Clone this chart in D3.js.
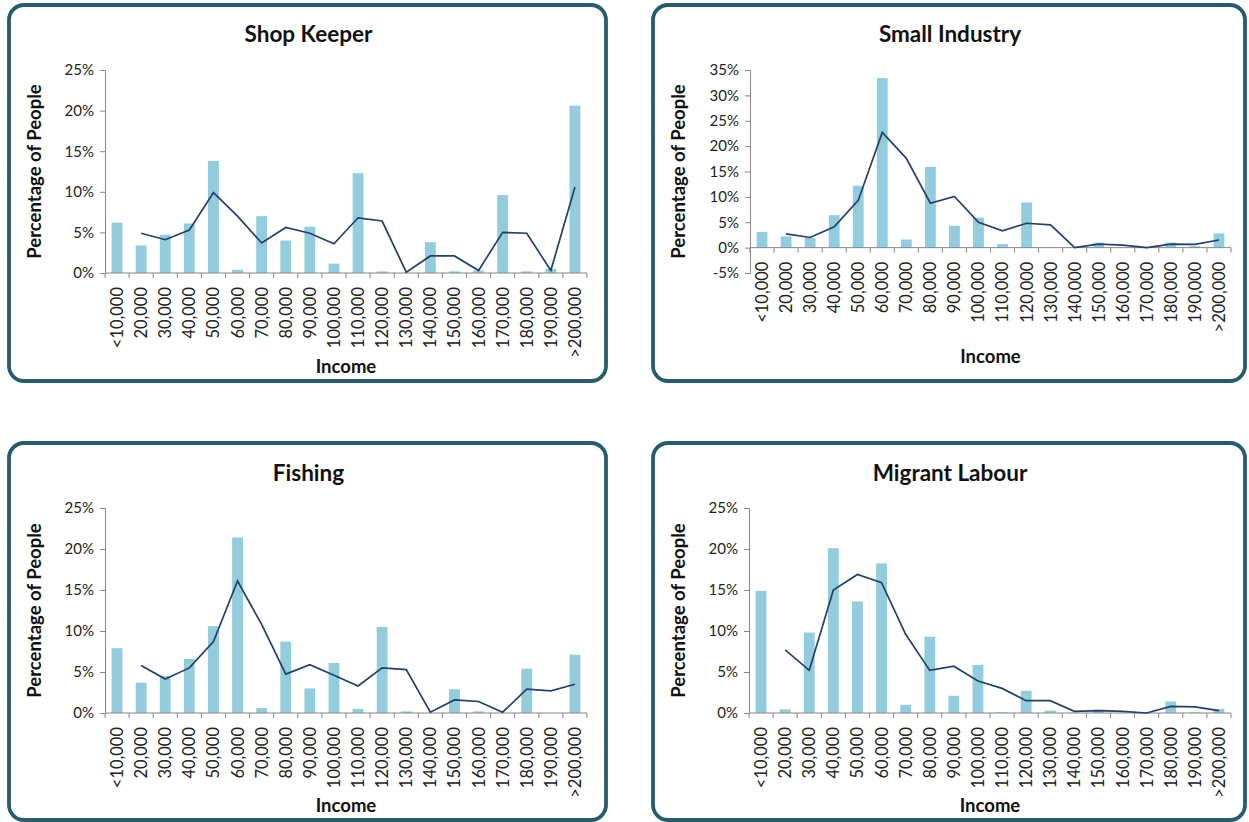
<!DOCTYPE html>
<html>
<head>
<meta charset="utf-8">
<script src="https://cdn.jsdelivr.net/npm/d3@7"></script>
<style>
  body { margin: 0; background: #fff; }
  svg { display: block; font-family: Lato, "Open Sans", sans-serif; }
</style>
</head>
<body>
<div id="chart"></div>
<script>
// income bands (x categories)
const incomeLabels = ["<10,000", "20,000", "30,000", "40,000", "50,000", "60,000", "70,000",
  "80,000", "90,000", "100,000", "110,000", "120,000", "130,000", "140,000", "150,000",
  "160,000", "170,000", "180,000", "190,000", ">200,000"];

const panelTitles = ["Shop Keeper", "Small Industry", "Fishing", "Migrant Labour"];

// bar values, % of people
const shopKeeperBars = [6.2, 3.4, 4.7, 6.1, 13.8, 0.4, 7.0, 4.0, 5.7, 1.15, 12.3, 0.2, 0.0, 3.8, 0.2, 0.3, 9.6, 0.2, 0.5, 20.6];
const smallIndustryBars = [3.1, 2.2, 1.9, 6.4, 12.2, 33.4, 1.6, 15.9, 4.3, 5.9, 0.7, 8.9, 0.0, 0.0, 1.0, 0.0, 0.0, 1.0, 0.3, 2.8];
const fishingBars = [7.9, 3.7, 4.5, 6.6, 10.6, 21.4, 0.6, 8.7, 3.0, 6.1, 0.5, 10.5, 0.2, 0.0, 2.9, 0.2, 0.0, 5.4, 0.0, 7.1];
const migrantBars = [14.9, 0.45, 9.8, 20.1, 13.6, 18.25, 1.0, 9.3, 2.1, 5.85, 0.1, 2.7, 0.3, 0.05, 0.4, 0.0, 0.0, 1.4, 0.1, 0.5];

// trend line values (no value for first band)
const shopKeeperLine = [null, 4.9, 4.1, 5.3, 9.9, 7.0, 3.7, 5.6, 4.9, 3.6, 6.8, 6.4, 0.1, 2.1, 2.1, 0.3, 5.0, 4.9, 0.3, 10.6];
const smallIndustryLine = [null, 2.7, 2.0, 4.1, 9.3, 22.7, 17.6, 8.75, 10.1, 5.0, 3.3, 4.8, 4.5, 0.0, 0.7, 0.5, 0.0, 0.7, 0.65, 1.5];
const fishingLine = [null, 5.8, 4.15, 5.5, 8.7, 16.1, 10.8, 4.75, 5.9, 4.6, 3.3, 5.5, 5.3, 0.1, 1.6, 1.4, 0.1, 2.9, 2.7, 3.5];
const migrantLine = [null, 7.7, 5.2, 15.0, 16.9, 15.9, 9.6, 5.2, 5.7, 3.9, 3.0, 1.5, 1.5, 0.2, 0.3, 0.2, 0.0, 0.8, 0.75, 0.3];

// y axis ticks per panel
const shopKeeperTicks = [0, 5, 10, 15, 20, 25];
const smallIndustryTicks = [-5, 0, 5, 10, 15, 20, 25, 30, 35];
const fishingTicks = [0, 5, 10, 15, 20, 25];
const migrantTicks = [0, 5, 10, 15, 20, 25];

const panels = [
  { title: panelTitles[0], bars: shopKeeperBars, line: shopKeeperLine, ticks: shopKeeperTicks,
    box: [9, 5, 606, 381], x0: 105, x1: 587, yTop: 70, yBot: 273, titleY: 34, ylabX: 35, incomeY: 367 },
  { title: panelTitles[1], bars: smallIndustryBars, line: smallIndustryLine, ticks: smallIndustryTicks,
    box: [653, 5, 1245, 381], x0: 750, x1: 1231, yTop: 70, yBot: 273, titleY: 34, ylabX: 679, incomeY: 357 },
  { title: panelTitles[2], bars: fishingBars, line: fishingLine, ticks: fishingTicks,
    box: [9, 443, 606, 820], x0: 105, x1: 587, yTop: 508, yBot: 713, titleY: 473, ylabX: 35, incomeY: 806 },
  { title: panelTitles[3], bars: migrantBars, line: migrantLine, ticks: migrantTicks,
    box: [653, 443, 1245, 820], x0: 749, x1: 1231, yTop: 508, yBot: 713, titleY: 473, ylabX: 679, incomeY: 806 },
];

const svg = d3.select("#chart").append("svg")
  .attr("width", 1249)
  .attr("height", 822);

panels.forEach((p) => {
  const g = svg.append("g");
  const [bx0, by0, bx1, by1] = p.box;

  g.append("rect")
    .attr("x", bx0).attr("y", by0)
    .attr("width", bx1 - bx0).attr("height", by1 - by0)
    .attr("rx", 15).attr("ry", 15)
    .attr("fill", "#fff")
    .attr("stroke", "#285c6b")
    .attr("stroke-width", 3.8);

  g.append("text")
    .attr("x", (bx0 + bx1) / 2 + 1)
    .attr("y", p.titleY)
    .attr("dy", "0.35em")
    .attr("text-anchor", "middle")
    .attr("font-weight", "bold")
    .attr("font-size", 22.5)
    .attr("fill", "#111")
    .text(p.title);

  const x = d3.scaleBand()
    .domain(incomeLabels)
    .range([p.x0, p.x1])
    .paddingInner(0.55)
    .paddingOuter(0.275);

  const y = d3.scaleLinear()
    .domain([p.ticks[0], p.ticks[p.ticks.length - 1]])
    .range([p.yBot, p.yTop]);

  // y axis
  const yAxis = g.append("g")
    .attr("transform", `translate(${p.x0},0)`)
    .call(d3.axisLeft(y).tickValues(p.ticks).tickSize(5).tickPadding(6)
      .tickFormat((d) => d + "%"));
  yAxis.select(".domain").attr("stroke", "#868686");
  yAxis.selectAll(".tick line").attr("stroke", "#868686");
  yAxis.selectAll(".tick text")
    .attr("font-size", 15)
    .attr("fill", "#222")
    .attr("font-family", "Lato, sans-serif");

  // bars
  g.append("g").selectAll("rect")
    .data(p.bars)
    .enter()
    .append("rect")
    .attr("x", (d, i) => x(incomeLabels[i]))
    .attr("width", x.bandwidth())
    .attr("y", (d) => y(Math.max(0, d)))
    .attr("height", (d) => Math.abs(y(d) - y(0)))
    .attr("fill", "#93cddd");

  // x axis at zero
  const y0 = y(0);
  const step = x.step();
  g.append("line")
    .attr("x1", p.x0).attr("x2", p.x1)
    .attr("y1", y0).attr("y2", y0)
    .attr("stroke", "#868686");
  g.append("g").selectAll("line")
    .data(d3.range(incomeLabels.length + 1))
    .enter()
    .append("line")
    .attr("x1", (i) => p.x0 + i * step)
    .attr("x2", (i) => p.x0 + i * step)
    .attr("y1", y0).attr("y2", y0 + 5)
    .attr("stroke", "#868686");

  g.append("g").selectAll("text")
    .data(incomeLabels)
    .enter()
    .append("text")
    .attr("transform", (d) => `translate(${x(d) + x.bandwidth() / 2},${y0 + 14}) rotate(-90)`)
    .attr("dy", "0.36em")
    .attr("text-anchor", "end")
    .attr("font-size", 16.5)
    .attr("fill", "#222")
    .text((d) => d);

  // trend line
  const line = d3.line()
    .defined((d) => d !== null)
    .x((d, i) => x(incomeLabels[i]) + x.bandwidth() / 2)
    .y((d) => y(d));
  g.append("path")
    .datum(p.line)
    .attr("d", line)
    .attr("fill", "none")
    .attr("stroke", "#253f6a")
    .attr("stroke-width", 1.7);

  // axis titles
  g.append("text")
    .attr("transform", `translate(${p.ylabX},${(p.yTop + p.yBot) / 2}) rotate(-90)`)
    .attr("dy", "0.35em")
    .attr("text-anchor", "middle")
    .attr("font-weight", "bold")
    .attr("font-size", 18.5)
    .attr("fill", "#111")
    .text("Percentage of People");

  g.append("text")
    .attr("x", (p.x0 + p.x1) / 2)
    .attr("y", p.incomeY)
    .attr("dy", "0.35em")
    .attr("text-anchor", "middle")
    .attr("font-weight", "bold")
    .attr("font-size", 18.5)
    .attr("fill", "#111")
    .text("Income");
});
</script>
</body>
</html>
